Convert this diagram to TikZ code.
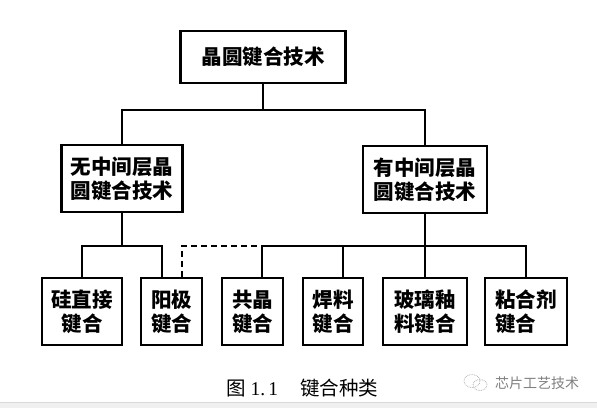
\documentclass[tikz,border=0pt]{standalone}
\usepackage{fontspec}
\newfontfamily\cjk{Noto Sans CJK SC}
\newfontfamily\serifnum{Liberation Serif}
\tikzset{
  box/.style={draw, line width=2.5pt, inner sep=0pt, align=center,
    font=\cjk\bfseries\fontsize{20.5}{24}\selectfont},
  conn/.style={line width=2.3pt, line join=miter},
  dashconn/.style={line width=2.6pt, dash pattern=on 6pt off 4pt},
}
\begin{document}
\begin{tikzpicture}[x=1pt,y=-1pt]
  \fill[white] (0,0) rectangle (597,408);
  \useasboundingbox (0,0) rectangle (597,408);
  % bottom band
  \fill[black!6] (0,402) rectangle (597,408);
  \draw[black!15, line width=1pt] (0,402.5) -- (597,402.5);

  % nodes
  \node[box, minimum width=165pt, minimum height=52pt] (top) at (263,57) {晶圆键合技术};
  \node[box, minimum width=121pt, minimum height=67pt] (L) at (122,178.5) {无中间层晶\\圆键合技术};
  \node[box, minimum width=124pt, minimum height=67pt] (R) at (425,179.5) {有中间层晶\\圆键合技术};
  \node[box, minimum width=80pt, minimum height=67pt] (B1) at (82,311.5) {硅直接\\键合};
  \node[box, minimum width=61pt, minimum height=67pt] (B2) at (171.5,311.5) {阳极\\键合};
  \node[box, minimum width=61pt, minimum height=67pt] (B3) at (252.5,311.5) {共晶\\键合};
  \node[box, minimum width=60pt, minimum height=67pt] (B4) at (333,311.5) {焊料\\键合};
  \node[box, minimum width=84pt, minimum height=67pt] (B5) at (425,311.5) {玻璃釉\\料键合};
  \node[box, minimum width=82pt, minimum height=67pt, align=left] (B6) at (526,311.5) {粘合剂\\键合};

  % bus levels and offset attachment points
  \coordinate (bus1) at (0,110);
  \coordinate (bus2) at (0,246);
  \coordinate (B2p) at ([xshift=-9.5pt]B2.north);
  \coordinate (B2q) at ([xshift=10.5pt]B2.north);
  \coordinate (B3p) at ([xshift=9.5pt]B3.north);
  \coordinate (B4p) at ([xshift=10pt]B4.north);

  % connectors
  \draw[conn] (top.south) -- (top.south |- bus1);
  \draw[conn] (L.north) -- (L.north |- bus1) -- (R.north |- bus1) -- (R.north);
  \draw[conn] (L.south) -- (L.south |- bus2);
  \draw[conn] (B1.north) -- (B1.north |- bus2) -- (B2p |- bus2) -- (B2p);
  \draw[dashconn] (B2q) -- (B2q |- bus2) -- (B3p |- bus2);
  \draw[conn] (R.south) -- (R.south |- bus2);
  \draw[conn] (B3p) -- (B3p |- bus2) -- (B6.north |- bus2) -- (B6.north);
  \draw[conn] (B4p) -- (B4p |- bus2);
  \draw[conn] (B5.north) -- (B5.north |- bus2);

  % caption
  \node[anchor=west, inner sep=0pt, font=\cjk\fontsize{19.5}{21}\selectfont] (cap) at (226,388)
    {图\hspace{5pt}{\serifnum 1.\hspace{3pt}1}\hspace{22pt}键合种类};

  % watermark
  \node[anchor=west, inner sep=0pt, text=black!50, font=\cjk\fontsize{14}{16}\selectfont] (wm) at (495,383) {芯片工艺技术};
  \draw[black!35, line width=0.7pt, densely dotted] (472,381) ellipse (8pt and 6.5pt);
  \draw[black!35, line width=0.7pt, densely dotted] (480,385) ellipse (7pt and 5.5pt);
\end{tikzpicture}
\end{document}
